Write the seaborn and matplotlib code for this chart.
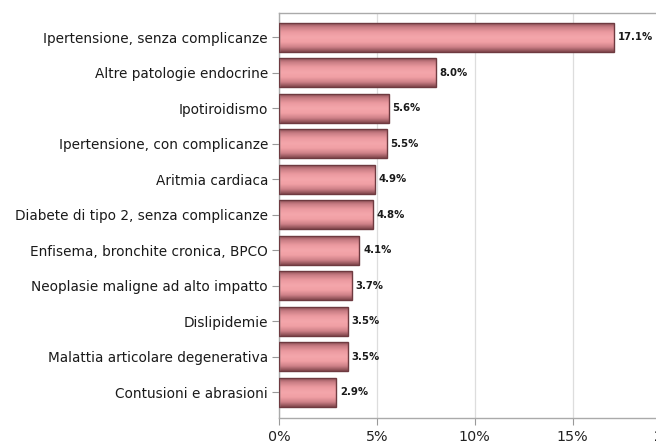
import numpy as np
import pandas as pd
import matplotlib
matplotlib.use("Agg")
import matplotlib.pyplot as plt
import seaborn as sns
from matplotlib.colors import LinearSegmentedColormap

categories = [
    "Ipertensione, senza complicanze",
    "Altre patologie endocrine",
    "Ipotiroidismo",
    "Ipertensione, con complicanze",
    "Aritmia cardiaca",
    "Diabete di tipo 2, senza complicanze",
    "Enfisema, bronchite cronica, BPCO",
    "Neoplasie maligne ad alto impatto",
    "Dislipidemie",
    "Malattia articolare degenerativa",
    "Contusioni e abrasioni",
]
values = [17.1, 8.0, 5.6, 5.5, 4.9, 4.8, 4.1, 3.7, 3.5, 3.5, 2.9]
x_ticks = [0, 5, 10, 15, 20]
x_ticklabels = ["0%", "5%", "10%", "15%", "20%"]

df = pd.DataFrame({"categoria": categories, "valore": values})

sns.set_theme(style="white")
plt.rcParams["font.family"] = ["DejaVu Sans"]

fig = plt.figure(figsize=(6.56, 4.45), dpi=100)
# axes extends past the right edge of the figure
ax = fig.add_axes([0.4256, 0.0607, 0.5962, 0.9101])

sns.barplot(data=df, x="valore", y="categoria", orient="h", ax=ax,
            color="#f2a0a5", width=0.82, edgecolor="#6e3a40", linewidth=1.0,
            zorder=2)

# shaded, cylinder-like fill for each bar
shade = LinearSegmentedColormap.from_list(
    "shade", ["#7e454b", "#c97d84", "#eb9aa0", "#f4a6ab", "#f1a0a5", "#cf8188", "#7e454b"])
grad = np.linspace(0, 1, 256).reshape(-1, 1)
for patch in ax.patches:
    x0, y0 = patch.get_x(), patch.get_y()
    w, h = patch.get_width(), patch.get_height()
    im = ax.imshow(grad, cmap=shade, aspect="auto", origin="upper",
                   extent=[x0, x0 + w, y0 + h, y0], zorder=2.5,
                   interpolation="bicubic")
    im.set_clip_path(patch)
    patch.set_facecolor("none")
    patch.set_zorder(3)

for patch, v in zip(ax.patches, values):
    ax.text(patch.get_width() + 0.2, patch.get_y() + patch.get_height() / 2,
            f"{v:.1f}%", va="center", ha="left", fontsize=7.3, color="#1a1a1a",
            fontweight="semibold", zorder=4)

ax.set_xlim(0, 20)
ax.set_ylim(10.73, -0.68)
ax.set_xticks(x_ticks)
ax.set_xticklabels(x_ticklabels, fontsize=10.3, color="#222222")
ax.set_xlabel("")
ax.set_ylabel("")
ax.tick_params(axis="y", labelsize=9.8, labelcolor="#1a1a1a", length=5,
               color="#999999", width=0.8, left=True, pad=3)
ax.tick_params(axis="x", length=5, color="#999999", width=0.8, bottom=True, pad=4)

ax.grid(axis="x", color="#dddddd", linewidth=0.9, zorder=0)
ax.set_axisbelow(True)
for side in ["left", "top", "bottom", "right"]:
    ax.spines[side].set_color("#aaaaaa")
    ax.spines[side].set_linewidth(1.0)
ax.spines["right"].set_visible(False)

fig.savefig("out.png", dpi=100)
